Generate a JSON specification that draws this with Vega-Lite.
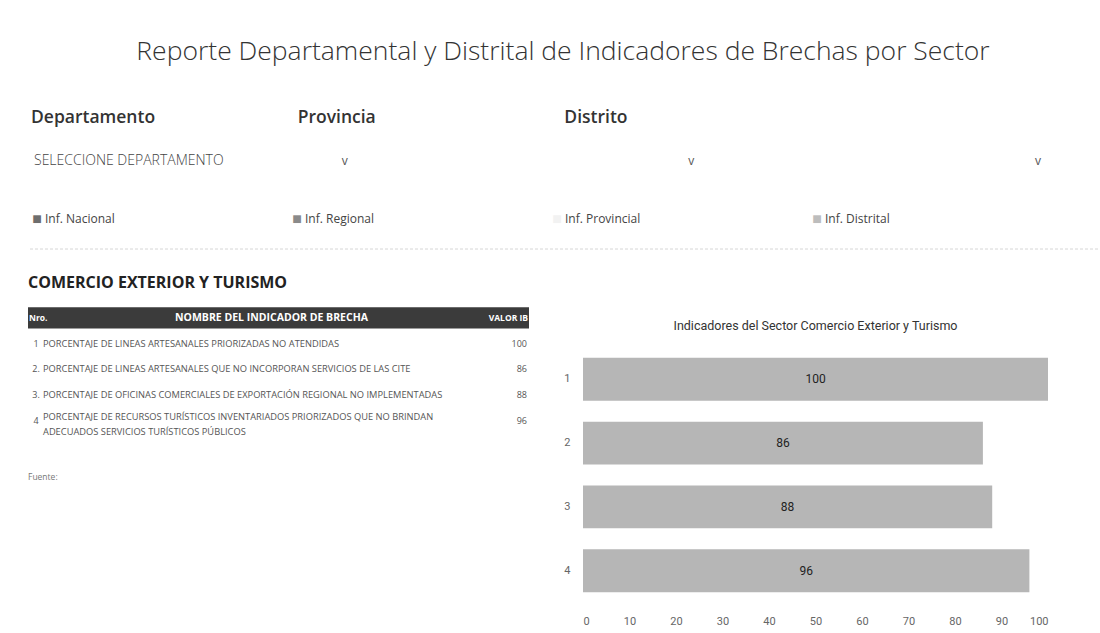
{
  "$schema": "https://vega.github.io/schema/vega-lite/v6.json",
  "background": "white",
  "padding": {"left": 27, "top": 0, "right": 0, "bottom": 0},
  "spacing": 0,
  "config": {"view": {"stroke": null}, "font": "Open Sans", "concat": {"spacing": 0}},
  "vconcat": [
    {
      "width": 1070,
      "height": 104,
      "data": {"values": [{"texto": "Reporte Departamental y Distrital de Indicadores de Brechas por Sector"}]},
      "mark": {"type": "text", "font": "Open Sans", "fontWeight": 300, "fontSize": 26.5, "color": "#333333"},
      "encoding": {"text": {"field": "texto"}}
    },
    {
      "width": 800,
      "height": 28,
      "data": {"values": [{"filtro": "Departamento"}, {"filtro": "Provincia"}, {"filtro": "Distrito"}]},
      "mark": {"type": "text", "align": "left", "font": "Open Sans", "fontSize": 17.5, "fontWeight": 600, "color": "#333333", "dx": 3},
      "encoding": {
        "x": {"field": "filtro", "type": "nominal", "sort": null, "bandPosition": 0, "scale": {"type": "band", "paddingInner": 0, "paddingOuter": 0}, "axis": null},
        "text": {"field": "filtro"}
      }
    },
    {
      "width": 1040,
      "height": 58,
      "data": {"values": [
        {"filtro": "Departamento", "seleccion": "SELECCIONE DEPARTAMENTO"},
        {"filtro": "Provincia", "seleccion": ""},
        {"filtro": "Distrito", "seleccion": ""}
      ]},
      "layer": [
        {
          "mark": {"type": "text", "align": "left", "font": "Open Sans", "fontSize": 14, "fontWeight": 300, "color": "#444444", "dx": 6},
          "encoding": {
            "x": {"field": "filtro", "type": "nominal", "sort": null, "bandPosition": 0, "scale": {"type": "band", "paddingInner": 0, "paddingOuter": 0}, "axis": null},
            "text": {"field": "seleccion"}
          }
        },
        {
          "mark": {"type": "text", "align": "center", "font": "Open Sans", "fontSize": 12, "color": "#555555", "dx": -30},
          "encoding": {
            "x": {"field": "filtro", "type": "nominal", "sort": null, "bandPosition": 1},
            "text": {"value": "v"}
          }
        }
      ]
    },
    {
      "width": 1040,
      "height": 50,
      "data": {"values": [
        {"nivel": "Inf. Nacional"},
        {"nivel": "Inf. Regional"},
        {"nivel": "Inf. Provincial"},
        {"nivel": "Inf. Distrital"}
      ]},
      "layer": [
        {
          "mark": {"type": "text", "align": "center", "fontSize": 16, "dx": 9, "dy": 4},
          "encoding": {
            "x": {"field": "nivel", "type": "nominal", "sort": null, "bandPosition": 0, "scale": {"type": "band", "paddingInner": 0, "paddingOuter": 0}, "axis": null},
            "color": {"field": "nivel", "type": "nominal", "sort": null, "scale": {"domain": ["Inf. Nacional", "Inf. Regional", "Inf. Provincial", "Inf. Distrital"], "range": ["#6e6e6e", "#8a8a8a", "#f2f2f2", "#bdbdbd"]}, "legend": null},
            "text": {"value": "■"}
          }
        },
        {
          "mark": {"type": "text", "align": "left", "font": "Open Sans", "fontSize": 12, "color": "#444444", "dx": 17, "dy": 4},
          "encoding": {
            "x": {"field": "nivel", "type": "nominal", "sort": null, "bandPosition": 0},
            "text": {"field": "nivel"}
          }
        }
      ]
    },
    {
      "width": 1070,
      "height": 18,
      "data": {"values": [{"separador": "linea"}]},
      "mark": {"type": "rule", "color": "#d6d6d6", "strokeWidth": 1, "strokeDash": [3, 2]},
      "encoding": {"y": {"field": "separador", "type": "nominal", "axis": null}}
    },
    {
      "width": 1040,
      "height": 46.5,
      "data": {"values": [{"sector": "COMERCIO EXTERIOR Y TURISMO"}]},
      "mark": {"type": "text", "align": "left", "font": "Open Sans", "fontSize": 16, "fontWeight": 700, "color": "#222222", "dy": 2},
      "encoding": {
        "x": {"field": "sector", "type": "nominal", "bandPosition": 0, "scale": {"type": "band", "paddingInner": 0, "paddingOuter": 0}, "axis": null},
        "text": {"field": "sector"}
      }
    },
    {
      "hconcat": [
        {
          "width": 501,
          "height": 128.5,
          "title": {"text": "Fuente:", "orient": "bottom", "anchor": "start", "font": "Open Sans", "fontSize": 8.5, "fontWeight": "normal", "color": "#777777", "offset": 36},
          "layer": [
            {
              "data": {"values": [{"fila": "h"}]},
              "mark": {"type": "bar", "color": "#3b3b3b", "height": {"band": 0.82}},
              "encoding": {
                "y": {"field": "fila", "type": "nominal", "scale": {"domain": ["h", "1", "2", "3", "4"], "paddingInner": 0, "paddingOuter": 0}, "axis": null}
              }
            },
            {
              "data": {"values": [{"fila": "h", "nro": "Nro.", "indicador": "NOMBRE DEL INDICADOR DE BRECHA", "valor": "VALOR IB"}]},
              "layer": [
                {
                  "mark": {"type": "text", "align": "left", "font": "Open Sans", "fontSize": 8.5, "fontWeight": "bold", "color": "white", "dx": 1},
                  "encoding": {
                    "x": {"datum": "t", "type": "nominal", "bandPosition": 0, "scale": {"type": "band", "paddingInner": 0, "paddingOuter": 0}, "axis": null},
                    "y": {"field": "fila", "type": "nominal"},
                    "text": {"field": "nro"}
                  }
                },
                {
                  "mark": {"type": "text", "align": "center", "font": "Open Sans", "fontSize": 10.5, "fontWeight": "bold", "color": "white", "dx": -7},
                  "encoding": {
                    "x": {"datum": "t", "type": "nominal", "bandPosition": 0.5},
                    "y": {"field": "fila", "type": "nominal"},
                    "text": {"field": "indicador"}
                  }
                },
                {
                  "mark": {"type": "text", "align": "right", "font": "Open Sans", "fontSize": 8.5, "fontWeight": "bold", "color": "white", "dx": -1},
                  "encoding": {
                    "x": {"datum": "t", "type": "nominal", "bandPosition": 1},
                    "y": {"field": "fila", "type": "nominal"},
                    "text": {"field": "valor"}
                  }
                }
              ]
            },
            {
              "data": {"values": [
                {"fila": "1", "nro": "1", "indicador": "PORCENTAJE DE LINEAS ARTESANALES PRIORIZADAS NO ATENDIDAS", "valor": 100},
                {"fila": "2", "nro": "2.", "indicador": "PORCENTAJE DE LINEAS ARTESANALES QUE NO INCORPORAN SERVICIOS DE LAS CITE", "valor": 86},
                {"fila": "3", "nro": "3.", "indicador": "PORCENTAJE DE OFICINAS COMERCIALES DE EXPORTACIÓN REGIONAL NO IMPLEMENTADAS", "valor": 88},
                {"fila": "4", "nro": "4", "indicador": "PORCENTAJE DE RECURSOS TURÍSTICOS INVENTARIADOS PRIORIZADOS QUE NO BRINDAN\nADECUADOS SERVICIOS TURÍSTICOS PÚBLICOS", "valor": 96}
              ]},
              "layer": [
                {
                  "mark": {"type": "text", "align": "center", "font": "Open Sans", "fontSize": 9, "color": "#555555", "dx": 8},
                  "encoding": {
                    "x": {"datum": "t", "type": "nominal", "bandPosition": 0},
                    "y": {"field": "fila", "type": "nominal"},
                    "text": {"field": "nro"}
                  }
                },
                {
                  "transform": [{"filter": "datum.fila != '4'"}],
                  "mark": {"type": "text", "align": "left", "font": "Open Sans", "fontSize": 9.3, "color": "#555555", "dx": 15},
                  "encoding": {
                    "x": {"datum": "t", "type": "nominal", "bandPosition": 0},
                    "y": {"field": "fila", "type": "nominal"},
                    "text": {"field": "indicador"}
                  }
                },
                {
                  "transform": [{"filter": "datum.fila == '4'"}],
                  "mark": {"type": "text", "align": "left", "font": "Open Sans", "fontSize": 9.3, "color": "#555555", "dx": 15, "dy": -4, "lineBreak": "\n", "lineHeight": 15},
                  "encoding": {
                    "x": {"datum": "t", "type": "nominal", "bandPosition": 0},
                    "y": {"field": "fila", "type": "nominal"},
                    "text": {"field": "indicador"}
                  }
                },
                {
                  "mark": {"type": "text", "align": "right", "font": "Open Sans", "fontSize": 9, "color": "#555555", "dx": -2},
                  "encoding": {
                    "x": {"datum": "t", "type": "nominal", "bandPosition": 1},
                    "y": {"field": "fila", "type": "nominal"},
                    "text": {"field": "valor", "type": "quantitative"}
                  }
                }
              ]
            }
          ]
        },
        {
          "vconcat": [
            {
              "width": 465,
              "height": 42,
              "data": {"values": [{"titulo": "Indicadores del Sector Comercio Exterior y Turismo"}]},
              "mark": {"type": "text", "font": "Roboto", "fontSize": 12.5, "color": "#333333"},
              "encoding": {"text": {"field": "titulo"}}
            },
            {
              "width": 465,
              "height": 256,
              "data": {"values": [
                {"nro": "1", "valor": 100},
                {"nro": "2", "valor": 86},
                {"nro": "3", "valor": 88},
                {"nro": "4", "valor": 96}
              ]},
              "layer": [
                {
                  "mark": {"type": "bar", "color": "#b6b6b6"},
                  "encoding": {
                    "y": {"field": "nro", "type": "nominal", "sort": null, "scale": {"paddingInner": 0.33, "paddingOuter": 0.17},
                      "axis": {"title": null, "domain": false, "ticks": false, "labelPadding": 13, "labelColor": "#666666", "labelFont": "Roboto", "labelFontSize": 11}},
                    "x": {"field": "valor", "type": "quantitative", "scale": {"domain": [0, 100]},
                      "axis": {"title": null, "values": [0, 10, 20, 30, 40, 50, 60, 70, 80, 90, 100], "domain": false, "ticks": false, "grid": false, "labelPadding": 12, "labelColor": "#666666", "labelFont": "Roboto", "labelFontSize": 11}}
                  }
                },
                {
                  "mark": {"type": "text", "font": "Roboto", "fontSize": 12, "color": "#222222"},
                  "encoding": {
                    "y": {"field": "nro", "type": "nominal", "sort": null},
                    "x": {"field": "valor", "type": "quantitative", "scale": {"domain": [0, 200]}, "axis": null},
                    "text": {"field": "valor", "type": "quantitative"}
                  }
                }
              ],
              "resolve": {"scale": {"x": "independent"}}
            }
          ],
          "spacing": 0
        }
      ],
      "spacing": 34
    }
  ]
}
